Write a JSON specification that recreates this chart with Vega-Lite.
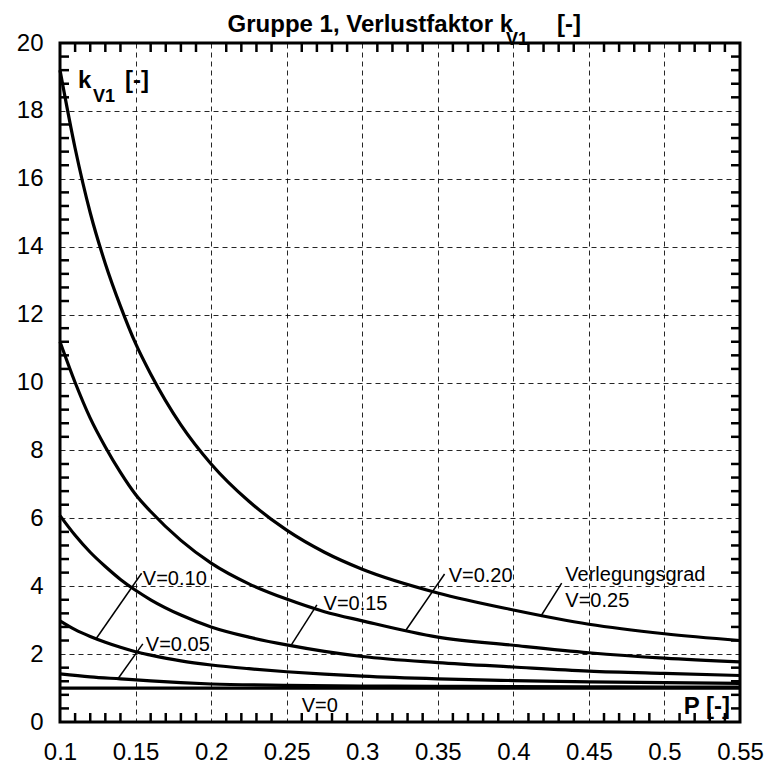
{
  "$schema": "https://vega.github.io/schema/vega-lite/v6.json",
  "width": 680,
  "height": 679,
  "autosize": {"type": "none"},
  "padding": {"left": 60, "top": 43, "right": 29, "bottom": 44},
  "background": "white",
  "config": {
    "view": {"stroke": "black", "strokeWidth": 3},
    "font": "Liberation Sans"
  },
  "datasets": {
    "curves": [
      {"V": "0.25", "P": 0.10, "k": 19.2},
      {"V": "0.25", "P": 0.11, "k": 16.9},
      {"V": "0.25", "P": 0.12, "k": 15.0},
      {"V": "0.25", "P": 0.13, "k": 13.5},
      {"V": "0.25", "P": 0.14, "k": 12.25},
      {"V": "0.25", "P": 0.15, "k": 11.15},
      {"V": "0.25", "P": 0.16, "k": 10.25},
      {"V": "0.25", "P": 0.18, "k": 8.75},
      {"V": "0.25", "P": 0.20, "k": 7.6},
      {"V": "0.25", "P": 0.225, "k": 6.5},
      {"V": "0.25", "P": 0.25, "k": 5.65},
      {"V": "0.25", "P": 0.275, "k": 5.0},
      {"V": "0.25", "P": 0.30, "k": 4.5},
      {"V": "0.25", "P": 0.35, "k": 3.8},
      {"V": "0.25", "P": 0.40, "k": 3.3},
      {"V": "0.25", "P": 0.45, "k": 2.88},
      {"V": "0.25", "P": 0.50, "k": 2.6},
      {"V": "0.25", "P": 0.55, "k": 2.4},
      {"V": "0.20", "P": 0.10, "k": 11.2},
      {"V": "0.20", "P": 0.11, "k": 10.0},
      {"V": "0.20", "P": 0.12, "k": 8.95},
      {"V": "0.20", "P": 0.13, "k": 8.1},
      {"V": "0.20", "P": 0.14, "k": 7.35},
      {"V": "0.20", "P": 0.15, "k": 6.7},
      {"V": "0.20", "P": 0.16, "k": 6.2},
      {"V": "0.20", "P": 0.18, "k": 5.35},
      {"V": "0.20", "P": 0.20, "k": 4.68},
      {"V": "0.20", "P": 0.225, "k": 4.07},
      {"V": "0.20", "P": 0.25, "k": 3.62},
      {"V": "0.20", "P": 0.275, "k": 3.25},
      {"V": "0.20", "P": 0.30, "k": 2.98},
      {"V": "0.20", "P": 0.35, "k": 2.5},
      {"V": "0.20", "P": 0.40, "k": 2.26},
      {"V": "0.20", "P": 0.45, "k": 2.04},
      {"V": "0.20", "P": 0.50, "k": 1.88},
      {"V": "0.20", "P": 0.55, "k": 1.77},
      {"V": "0.15", "P": 0.10, "k": 6.08},
      {"V": "0.15", "P": 0.11, "k": 5.5},
      {"V": "0.15", "P": 0.12, "k": 5.0},
      {"V": "0.15", "P": 0.13, "k": 4.58},
      {"V": "0.15", "P": 0.14, "k": 4.2},
      {"V": "0.15", "P": 0.15, "k": 3.88},
      {"V": "0.15", "P": 0.16, "k": 3.6},
      {"V": "0.15", "P": 0.18, "k": 3.15},
      {"V": "0.15", "P": 0.20, "k": 2.8},
      {"V": "0.15", "P": 0.225, "k": 2.5},
      {"V": "0.15", "P": 0.25, "k": 2.27},
      {"V": "0.15", "P": 0.275, "k": 2.08},
      {"V": "0.15", "P": 0.30, "k": 1.93},
      {"V": "0.15", "P": 0.35, "k": 1.75},
      {"V": "0.15", "P": 0.40, "k": 1.62},
      {"V": "0.15", "P": 0.45, "k": 1.5},
      {"V": "0.15", "P": 0.50, "k": 1.43},
      {"V": "0.15", "P": 0.55, "k": 1.37},
      {"V": "0.10", "P": 0.10, "k": 2.98},
      {"V": "0.10", "P": 0.11, "k": 2.72},
      {"V": "0.10", "P": 0.12, "k": 2.52},
      {"V": "0.10", "P": 0.13, "k": 2.35},
      {"V": "0.10", "P": 0.14, "k": 2.2},
      {"V": "0.10", "P": 0.15, "k": 2.07},
      {"V": "0.10", "P": 0.16, "k": 1.97},
      {"V": "0.10", "P": 0.18, "k": 1.8},
      {"V": "0.10", "P": 0.20, "k": 1.68},
      {"V": "0.10", "P": 0.225, "k": 1.57},
      {"V": "0.10", "P": 0.25, "k": 1.48},
      {"V": "0.10", "P": 0.275, "k": 1.41},
      {"V": "0.10", "P": 0.30, "k": 1.35},
      {"V": "0.10", "P": 0.35, "k": 1.27},
      {"V": "0.10", "P": 0.40, "k": 1.22},
      {"V": "0.10", "P": 0.45, "k": 1.18},
      {"V": "0.10", "P": 0.50, "k": 1.16},
      {"V": "0.10", "P": 0.55, "k": 1.14},
      {"V": "0.05", "P": 0.10, "k": 1.42},
      {"V": "0.05", "P": 0.12, "k": 1.33},
      {"V": "0.05", "P": 0.14, "k": 1.27},
      {"V": "0.05", "P": 0.16, "k": 1.21},
      {"V": "0.05", "P": 0.18, "k": 1.16},
      {"V": "0.05", "P": 0.20, "k": 1.12},
      {"V": "0.05", "P": 0.25, "k": 1.08},
      {"V": "0.05", "P": 0.30, "k": 1.06},
      {"V": "0.05", "P": 0.35, "k": 1.05},
      {"V": "0.05", "P": 0.40, "k": 1.04},
      {"V": "0.05", "P": 0.45, "k": 1.035},
      {"V": "0.05", "P": 0.50, "k": 1.03},
      {"V": "0.05", "P": 0.55, "k": 1.03},
      {"V": "0", "P": 0.10, "k": 1.0},
      {"V": "0", "P": 0.55, "k": 1.0}
    ],
    "leaders": [
      {"id": "0.05", "P": 0.1548, "k": 2.3},
      {"id": "0.05", "P": 0.1386, "k": 1.29},
      {"id": "0.10", "P": 0.154, "k": 4.38},
      {"id": "0.10", "P": 0.124, "k": 2.46},
      {"id": "0.15", "P": 0.270, "k": 3.45},
      {"id": "0.15", "P": 0.2528, "k": 2.25},
      {"id": "0.20", "P": 0.3545, "k": 4.36},
      {"id": "0.20", "P": 0.329, "k": 2.71},
      {"id": "0.25", "P": 0.432, "k": 4.09},
      {"id": "0.25", "P": 0.418, "k": 3.1}
    ],
    "xticks": [
      {"P": 0.11}, {"P": 0.12}, {"P": 0.13}, {"P": 0.14}, {"P": 0.16}, {"P": 0.17}, {"P": 0.18}, {"P": 0.19},
      {"P": 0.21}, {"P": 0.22}, {"P": 0.23}, {"P": 0.24}, {"P": 0.26}, {"P": 0.27}, {"P": 0.28}, {"P": 0.29},
      {"P": 0.31}, {"P": 0.32}, {"P": 0.33}, {"P": 0.34}, {"P": 0.36}, {"P": 0.37}, {"P": 0.38}, {"P": 0.39},
      {"P": 0.41}, {"P": 0.42}, {"P": 0.43}, {"P": 0.44}, {"P": 0.46}, {"P": 0.47}, {"P": 0.48}, {"P": 0.49},
      {"P": 0.51}, {"P": 0.52}, {"P": 0.53}, {"P": 0.54}
    ],
    "yticks": [
      {"k": 0.4}, {"k": 0.8}, {"k": 1.2}, {"k": 1.6}, {"k": 2.4}, {"k": 2.8}, {"k": 3.2}, {"k": 3.6},
      {"k": 4.4}, {"k": 4.8}, {"k": 5.2}, {"k": 5.6}, {"k": 6.4}, {"k": 6.8}, {"k": 7.2}, {"k": 7.6},
      {"k": 8.4}, {"k": 8.8}, {"k": 9.2}, {"k": 9.6}, {"k": 10.4}, {"k": 10.8}, {"k": 11.2}, {"k": 11.6},
      {"k": 12.4}, {"k": 12.8}, {"k": 13.2}, {"k": 13.6}, {"k": 14.4}, {"k": 14.8}, {"k": 15.2}, {"k": 15.6},
      {"k": 16.4}, {"k": 16.8}, {"k": 17.2}, {"k": 17.6}, {"k": 18.4}, {"k": 18.8}, {"k": 19.2}, {"k": 19.6}
    ],
    "labelsRegular": [
      {"P": 0.1548, "k": 4.035, "text": "V=0.10"},
      {"P": 0.1568, "k": 2.09, "text": "V=0.05"},
      {"P": 0.2744, "k": 3.30, "text": "V=0.15"},
      {"P": 0.3572, "k": 4.13, "text": "V=0.20"},
      {"P": 0.4344, "k": 4.16, "text": "Verlegungsgrad"},
      {"P": 0.4344, "k": 3.40, "text": "V=0.25"},
      {"P": 0.26, "k": 0.295, "text": "V=0"}
    ],
    "labelsBoldLeft": [
      {"P": 0.1119, "k": 18.67, "text": "k"},
      {"P": 0.1430, "k": 18.67, "text": "[-]"},
      {"P": 0.4289, "k": 20.32, "text": "[-]"}
    ],
    "labelsBoldRight": [
      {"P": 0.3998, "k": 20.32, "text": "Gruppe 1, Verlustfaktor k"},
      {"P": 0.5434, "k": 0.236, "text": "P [-]"}
    ],
    "labelsSub": [
      {"P": 0.1218, "k": 18.26, "text": "V1"},
      {"P": 0.3952, "k": 19.94, "text": "V1"}
    ]
  },
  "layer": [
    {
      "data": {"name": "curves"},
      "mark": {"type": "line", "color": "black", "strokeWidth": 3.2, "interpolate": "monotone"},
      "encoding": {
        "x": {
          "field": "P", "type": "quantitative",
          "scale": {"domain": [0.1, 0.55], "nice": false, "zero": false},
          "axis": {
            "orient": "bottom",
            "title": null,
            "values": [0.1,0.15,0.2,0.25,0.3,0.35,0.4,0.45,0.5,0.55],
            "format": ".2~f",
            "labelFont": "Liberation Sans",
            "labelFontSize": 24,
            "labelColor": "black",
            "labelPadding": 18,
            "labelOverlap": false,
            "labelFlush": false,
            "labelBound": false,
            "domain": false,
            "ticks": false,
            "grid": true,
            "gridColor": "black",
            "gridWidth": 1,
            "gridDash": [5, 4],
            "gridOpacity": 0.85
          }
        },
        "y": {
          "field": "k", "type": "quantitative",
          "scale": {"domain": [0, 20], "nice": false, "zero": true},
          "axis": {
            "orient": "left",
            "title": null,
            "values": [0,2,4,6,8,10,12,14,16,18,20],
            "format": "d",
            "labelFont": "Liberation Sans",
            "labelFontSize": 24,
            "labelColor": "black",
            "labelPadding": 17,
            "labelOverlap": false,
            "labelFlush": false,
            "labelBound": false,
            "domain": false,
            "ticks": false,
            "grid": true,
            "gridColor": "black",
            "gridWidth": 1,
            "gridDash": [5, 4],
            "gridOpacity": 0.85
          }
        },
        "detail": {"field": "V", "type": "nominal"}
      }
    },
    {
      "data": {"name": "xticks"},
      "mark": {"type": "tick", "orient": "vertical", "color": "black", "size": 18, "thickness": 2.5, "opacity": 1, "clip": true},
      "encoding": {
        "x": {"field": "P", "type": "quantitative"},
        "y": {"value": 0}
      }
    },
    {
      "data": {"name": "xticks"},
      "mark": {"type": "tick", "orient": "vertical", "color": "black", "size": 18, "thickness": 2.5, "opacity": 1, "clip": true},
      "encoding": {
        "x": {"field": "P", "type": "quantitative"},
        "y": {"value": 679}
      }
    },
    {
      "data": {"name": "yticks"},
      "mark": {"type": "tick", "orient": "horizontal", "color": "black", "size": 18, "thickness": 2.5, "opacity": 1, "clip": true},
      "encoding": {
        "y": {"field": "k", "type": "quantitative"},
        "x": {"value": 0}
      }
    },
    {
      "data": {"name": "yticks"},
      "mark": {"type": "tick", "orient": "horizontal", "color": "black", "size": 18, "thickness": 2.5, "opacity": 1, "clip": true},
      "encoding": {
        "y": {"field": "k", "type": "quantitative"},
        "x": {"value": 680}
      }
    },
    {
      "data": {"name": "leaders"},
      "mark": {"type": "line", "color": "black", "strokeWidth": 1.5},
      "encoding": {
        "x": {"field": "P", "type": "quantitative"},
        "y": {"field": "k", "type": "quantitative"},
        "detail": {"field": "id", "type": "nominal"}
      }
    },
    {
      "data": {"name": "labelsRegular"},
      "mark": {"type": "text", "align": "left", "baseline": "alphabetic", "font": "Liberation Sans", "fontSize": 20, "color": "black"},
      "encoding": {
        "x": {"field": "P", "type": "quantitative"},
        "y": {"field": "k", "type": "quantitative"},
        "text": {"field": "text"}
      }
    },
    {
      "data": {"name": "labelsBoldLeft"},
      "mark": {"type": "text", "align": "left", "baseline": "alphabetic", "font": "Liberation Sans", "fontSize": 24, "fontWeight": "bold", "color": "black"},
      "encoding": {
        "x": {"field": "P", "type": "quantitative"},
        "y": {"field": "k", "type": "quantitative"},
        "text": {"field": "text"}
      }
    },
    {
      "data": {"name": "labelsBoldRight"},
      "mark": {"type": "text", "align": "right", "baseline": "alphabetic", "font": "Liberation Sans", "fontSize": 24, "fontWeight": "bold", "color": "black"},
      "encoding": {
        "x": {"field": "P", "type": "quantitative"},
        "y": {"field": "k", "type": "quantitative"},
        "text": {"field": "text"}
      }
    },
    {
      "data": {"name": "labelsSub"},
      "mark": {"type": "text", "align": "left", "baseline": "alphabetic", "font": "Liberation Sans", "fontSize": 18, "fontWeight": "bold", "color": "black"},
      "encoding": {
        "x": {"field": "P", "type": "quantitative"},
        "y": {"field": "k", "type": "quantitative"},
        "text": {"field": "text"}
      }
    }
  ]
}
